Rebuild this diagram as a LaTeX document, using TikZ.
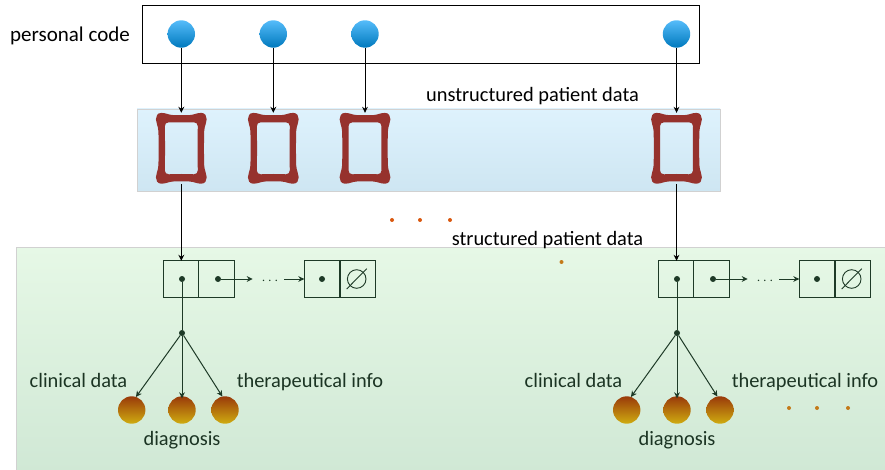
\documentclass[tikz,border=0pt]{standalone}
\usepackage{fontspec}
\setmainfont{Carlito}
\usetikzlibrary{arrows.meta}
\definecolor{dk}{HTML}{1E3A27}
\definecolor{bluetop}{HTML}{DEF2FD}
\definecolor{bluebot}{HTML}{CEE6F2}
\definecolor{greentop}{HTML}{E6F8E6}
\definecolor{greenbot}{HTML}{D0E8D5}
\definecolor{bdt}{HTML}{55BCFA}
\definecolor{bdb}{HTML}{0079BD}
\definecolor{gdt}{HTML}{9A3A0A}
\definecolor{gdb}{HTML}{CFAC10}
\definecolor{bonecol}{HTML}{96322D}
\definecolor{dotor}{HTML}{D9580F}
\definecolor{dotgr}{HTML}{C47A18}
\tikzset{
  x=1pt,y=-1pt,
  every node/.style={inner sep=0pt,outer sep=0pt,font=\fontsize{20.4}{22}\selectfont},
  lbl/.style={anchor=base,text=black},
  lblg/.style={anchor=base,text=dk!90!black},
  topbox/.style={draw=black,line width=1pt,fill=white},
  blueband/.style={draw=black!18,line width=0.8pt,top color=bluetop,bottom color=bluebot},
  greenband/.style={draw=black!18,line width=0.8pt,top color=greentop,bottom color=greenbot},
  bluedot/.style={circle,minimum size=27.4pt,top color=bdt,bottom color=bdb},
  golddot/.style={circle,minimum size=27.4pt,top color=gdt,bottom color=gdb},
  conn/.style={draw=black,line width=1pt,-{Stealth[length=6pt,width=5.8pt]}},
  conng/.style={draw=dk,line width=1pt,-{Stealth[length=6pt,width=5.8pt]}},
  cell/.style={draw=dk,line width=1.1pt,minimum width=35.8pt,minimum height=36.4pt},
  blob/.style={circle,fill=dk,minimum size=6pt},
  orangedot/.style={circle,minimum size=4pt,fill=#1},
  bonebox/.style={minimum width=51pt,minimum height=71pt},
}
\newcommand{\bonepic}[3]{% name, x, y
  \node[bonebox] (#1) at (#2,#3) {};
  \fill[bonecol,even odd rule,shift={(#2,#3)}]
    (-20,-35.4) .. controls (-15,-35.4) and (-13,-33.4) .. (-8,-33.2)
    .. controls (-3,-33) and (3,-33) .. (8,-33.2)
    .. controls (13,-33.4) and (15,-35.4) .. (20,-35.4)
    .. controls (24,-35.4) and (25.4,-32) .. (25.4,-29)
    .. controls (25.4,-25) and (23.2,-23) .. (22.9,-17)
    .. controls (22.6,-8) and (22.6,8) .. (22.9,17)
    .. controls (23.2,23) and (25.4,25) .. (25.4,29)
    .. controls (25.4,32) and (24,35.4) .. (20,35.4)
    .. controls (15,35.4) and (13,33.4) .. (8,33.2)
    .. controls (3,33) and (-3,33) .. (-8,33.2)
    .. controls (-13,33.4) and (-15,35.4) .. (-20,35.4)
    .. controls (-24,35.4) and (-25.4,32) .. (-25.4,29)
    .. controls (-25.4,25) and (-23.2,23) .. (-22.9,17)
    .. controls (-22.6,8) and (-22.6,-8) .. (-22.9,-17)
    .. controls (-23.2,-23) and (-25.4,-25) .. (-25.4,-29)
    .. controls (-25.4,-32) and (-24,-35.4) .. (-20,-35.4) -- cycle
    (-12.5,-26) .. controls (-6,-26) and (6,-25.6) .. (12.5,-26)
    .. controls (15,-26) and (16.5,-24.5) .. (16.5,-22)
    .. controls (16.2,-8) and (16.2,8) .. (16.5,22)
    .. controls (16.5,24.5) and (15,26) .. (12.5,26)
    .. controls (6,25.6) and (-6,25.6) .. (-12.5,26)
    .. controls (-15,26) and (-16.5,24.5) .. (-16.5,22)
    .. controls (-16.2,8) and (-16.2,-8) .. (-16.5,-22)
    .. controls (-16.5,-24.5) and (-15,-26) .. (-12.5,-26) -- cycle;
}
\newcommand{\listgroup}[2]{% prefix, x shift
  \begin{scope}[shift={(#2,0)}]
    \node[cell] (#1a) at (181,279) {};
    \node[cell] (#1b) at (216.8,279) {};
    \node[cell] (#1c) at (322.2,279) {};
    \node[cell] (#1d) at (357.8,279) {};
    \node[blob] (#1da) at (182,279) {};
    \node[blob] (#1db) at (218,279) {};
    \node[blob] (#1dc) at (322,279) {};
    \node[text=dk,font=\fontsize{14.6}{16}\selectfont] (#1dots) at (270,281) {$\cdots$};
    \coordinate (#1e1) at (346.7,289);
    \coordinate (#1e2) at (366.7,268.7);
    \node[circle,draw=dk,line width=0.9pt,minimum size=18.6pt] (#1empty) at (356.7,279) {};
    \draw[dk,line width=0.9pt] (#1e1) -- (#1e2);
    \node[blob] (#1br) at (182,333) {};
    \node[golddot] (#1g1) at (131.7,410) {};
    \node[golddot] (#1g2) at (182,410) {};
    \node[golddot] (#1g3) at (225,410) {};
    \draw[dk,line width=1pt] (#1da) -- (#1br);
    \draw[conng] (#1br) -- (#1g1.72);
    \draw[conng] (#1br) -- ([yshift=-2pt]#1g2.north);
    \draw[conng] (#1br) -- (#1g3.101);
    \coordinate (#1s1) at (252.7,279);
    \coordinate (#1s2) at (284,279);
    \draw[conng] (#1db) -- (#1s1);
    \draw[conng] (#1s2) -- (#1c.west);
    \node[lblg] (#1t1) at (78.5,387) {clinical data};
    \node[lblg] (#1t2) at (182,445) {diagnosis};
    \node[lblg] (#1t3) at (310,387) {therapeutical info};
  \end{scope}
}
\begin{document}
\begin{tikzpicture}
\useasboundingbox (0,0) rectangle (885,470);
\path[topbox] (142.3,5.5) rectangle (699.7,63.5);
\path[blueband] (137,109) rectangle (720,191);
\path[greenband] (16,247) rectangle (887,472);
\node[lbl,font=\fontsize{21}{22}\selectfont] (tp) at (70,42) {personal code};
\node[lbl] (tu) at (532.5,102) {unstructured patient data};
\node[lbl] (ts) at (547.5,245) {structured patient data};
\bonepic{b1}{181.3}{148.3}
\bonepic{b2}{273.3}{148.3}
\bonepic{b3}{365}{148.3}
\bonepic{b4}{676.5}{148.3}
\node[bluedot] (p1) at (181.3,34) {};
\node[bluedot] (p2) at (273.3,34) {};
\node[bluedot] (p3) at (365,34) {};
\node[bluedot] (p4) at (676.5,34) {};
\draw[conn] (p1) -- (b1.north);
\draw[conn] (p2) -- (b2.north);
\draw[conn] (p3) -- (b3.north);
\draw[conn] (p4) -- (b4.north);
\listgroup{l}{0}
\listgroup{r}{495}
\draw[conn] (b1.south) -- (b1.south |- la.north);
\draw[conn] (b4.south) -- (b4.south |- ra.north);
\foreach \n/\x/\y/\c in {o1/392/220/dotor,o2/420/220/dotor,o3/450/220/dotor,o4/561.5/262/dotgr,o5/789/408/dotgr,o6/817/408/dotgr,o7/848/408/dotgr}
  \node[orangedot=\c] (\n) at (\x,\y) {};
\end{tikzpicture}
\end{document}
